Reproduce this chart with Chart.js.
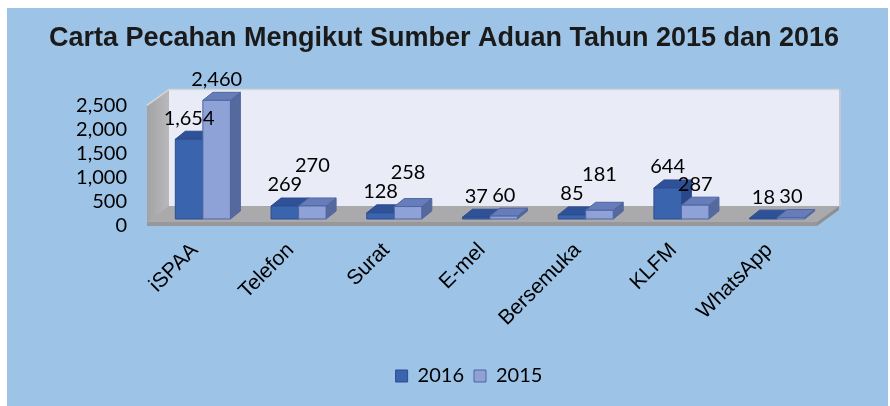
<!DOCTYPE html>
<html>
<head>
<meta charset="utf-8">
<script src="https://cdn.jsdelivr.net/npm/chart.js@4.4.1/dist/chart.umd.min.js"></script>
<style>
  html, body { margin: 0; padding: 0; background: #ffffff; }
  #wrap { position: absolute; left: 7px; top: 8px; width: 881px; height: 398px; background: #9DC3E6; }
</style>
</head>
<body>
<div id="wrap"><canvas id="chart"></canvas></div>
<script>
// Data
const categories = ['iSPAA', 'Telefon', 'Surat', 'E-mel', 'Bersemuka', 'KLFM', 'WhatsApp'];
const values2016 = [1654, 269, 128, 37, 85, 644, 18];
const values2015 = [2460, 270, 258, 60, 181, 287, 30];
const seriesLabels = ['2016', '2015'];
const yTicks = [0, 500, 1000, 1500, 2000, 2500];

// 3D look
const WALL = { dx: 22, dy: -16 };
const BAR_SHIFT = { dx: 8, dy: -7 };
const BAR_DEPTH = { dx: 10, dy: -8 };
const faces = [
    { front: '#3B64AF', top: '#2F5197', side: '#29488A', edge: '#2C4D8E' },
    { front: '#8FA2D8', top: '#677DB9', side: '#56699C', edge: '#4F66A3' }
];
const numFont = "Lato, 'Open Sans', sans-serif";
const textFont = "'Liberation Sans', Arial, sans-serif";

function poly(ctx, pts, fill, stroke) {
    ctx.beginPath();
    ctx.moveTo(pts[0][0], pts[0][1]);
    for (let i = 1; i < pts.length; i++) ctx.lineTo(pts[i][0], pts[i][1]);
    ctx.closePath();
    ctx.fillStyle = fill;
    ctx.fill();
    if (stroke) {
        ctx.strokeStyle = stroke;
        ctx.lineWidth = 1;
        ctx.stroke();
    }
}

const depth3d = {
    id: 'depth3d',
    afterLayout(chart) {
        // title is centred on the whole panel, legend sits right of centre
        chart.titleBlock.left += 32;
        chart.titleBlock.right += 32;
        chart.legend.left += 57;
        chart.legend.right += 57;
    },
    beforeDatasetsDraw(chart) {
        const { ctx } = chart;
        const { left: L, right: R, top: T, bottom: B } = chart.chartArea;
        const fb = B - 4;
        ctx.save();

        // back wall
        poly(ctx, [[L + WALL.dx, T + WALL.dy], [R + WALL.dx, T + WALL.dy],
                   [R + WALL.dx, fb + WALL.dy], [L + WALL.dx, fb + WALL.dy]], '#E9EBF6');
        ctx.strokeStyle = '#C4C8D4';
        ctx.lineWidth = 2;
        ctx.beginPath();
        ctx.moveTo(R + WALL.dx + 1, T + WALL.dy);
        ctx.lineTo(R + WALL.dx + 1, fb + WALL.dy);
        ctx.stroke();

        // left wall
        const g = ctx.createLinearGradient(L, 0, L + WALL.dx, 0);
        g.addColorStop(0, '#A3A3A5');
        g.addColorStop(1, '#B9B9BB');
        poly(ctx, [[L, T], [L + WALL.dx, T + WALL.dy], [L + WALL.dx, fb + WALL.dy], [L, B]], g);
        ctx.strokeStyle = '#D6D6D8';
        ctx.lineWidth = 1.5;
        ctx.beginPath();
        ctx.moveTo(L, T);
        ctx.lineTo(L + WALL.dx, T + WALL.dy);
        ctx.lineTo(R + WALL.dx, T + WALL.dy);
        ctx.stroke();

        // floor
        poly(ctx, [[L, fb], [R, fb], [R + WALL.dx, fb + WALL.dy], [L + WALL.dx, fb + WALL.dy]], '#AAAAAC');
        poly(ctx, [[L, fb], [R, fb], [R, B], [L, B]], '#98989A');
        poly(ctx, [[R, fb], [R + WALL.dx, fb + WALL.dy], [R + WALL.dx, B + WALL.dy], [R, B]], '#8F8F91');

        // bars as boxes, left to right so the nearer faces cover the sides
        const metas = chart.data.datasets.map((d, di) => chart.getDatasetMeta(di));
        ctx.font = '20px ' + numFont;
        const labels = [];
        for (let i = 0; i < categories.length; i++) {
            const row = [];
            metas.forEach((meta, di) => {
                const el = meta.data[i];
                const { x, y, base, width } = el.getProps(['x', 'y', 'base', 'width'], true);
                const c = faces[di];
                const x0 = x - width / 2 + BAR_SHIFT.dx;
                const x1 = x0 + width;
                const yt = y + BAR_SHIFT.dy;
                const yb = base + BAR_SHIFT.dy;
                poly(ctx, [[x1, yb], [x1 + BAR_DEPTH.dx, yb + BAR_DEPTH.dy],
                           [x1 + BAR_DEPTH.dx, yt + BAR_DEPTH.dy], [x1, yt]], c.side, c.edge);
                poly(ctx, [[x0, yt], [x1, yt], [x1 + BAR_DEPTH.dx, yt + BAR_DEPTH.dy],
                           [x0 + BAR_DEPTH.dx, yt + BAR_DEPTH.dy]], c.top, c.edge);
                poly(ctx, [[x0, yt], [x1, yt], [x1, yb], [x0, yb]], c.front, c.edge);
                const t = chart.data.datasets[di].data[i].toLocaleString('en-US');
                const w = ctx.measureText(t).width;
                row.push({ t, x: x + BAR_SHIFT.dx, y: yt - 21, w });
            });
            // lift the second label when it would touch the first one
            const [a, b] = row;
            const gap = (b.x - b.w / 2) - (a.x + a.w / 2);
            if (gap < 2 && Math.abs(a.y - b.y) < 16) b.y = Math.min(b.y, a.y - 19);
            labels.push(...row);
        }

        // value labels
        ctx.fillStyle = '#000000';
        ctx.textAlign = 'center';
        ctx.textBaseline = 'middle';
        labels.forEach((l) => ctx.fillText(l.t, l.x, l.y));

        ctx.restore();
        return false;
    }
};

new Chart(document.getElementById('chart'), {
    type: 'bar',
    data: {
        labels: categories,
        datasets: [
            { label: seriesLabels[0], data: values2016, backgroundColor: faces[0].front, borderColor: faces[0].edge, borderWidth: 1 },
            { label: seriesLabels[1], data: values2015, backgroundColor: faces[1].front, borderColor: faces[1].edge, borderWidth: 1 }
        ]
    },
    plugins: [depth3d],
    options: {
        responsive: true,
        maintainAspectRatio: false,
        animation: false,
        categoryPercentage: 0.575,
        barPercentage: 1.0,
        layout: { padding: { top: 0, right: 71, bottom: 10, left: 0 } },
        plugins: {
            title: {
                display: true,
                text: 'Carta Pecahan Mengikut Sumber Aduan Tahun 2015 dan 2016',
                color: '#1A1A1A',
                font: { size: 27, weight: 'bold', family: textFont },
                padding: { top: 14, bottom: 51 }
            },
            legend: {
                position: 'bottom',
                labels: {
                    color: '#000000',
                    boxWidth: 12,
                    boxHeight: 12,
                    padding: 10,
                    font: { size: 20, family: numFont }
                }
            },
            tooltip: { enabled: false }
        },
        scales: {
            x: {
                grid: { display: false },
                border: { display: false },
                afterFit: (s) => { s.height = 130; },
                ticks: {
                    color: '#000000',
                    autoSkip: false,
                    minRotation: 45,
                    maxRotation: 45,
                    padding: 4,
                    font: { size: 21, family: textFont }
                }
            },
            y: {
                min: yTicks[0],
                max: yTicks[yTicks.length - 1],
                grid: { display: false },
                border: { display: false },
                afterFit: (s) => { s.width = 140; },
                ticks: {
                    stepSize: yTicks[1] - yTicks[0],
                    autoSkip: false,
                    padding: 12,
                    color: '#000000',
                    font: { size: 20, family: numFont },
                    callback: (v) => Number(v).toLocaleString('en-US')
                }
            }
        }
    }
});
</script>
</body>
</html>
